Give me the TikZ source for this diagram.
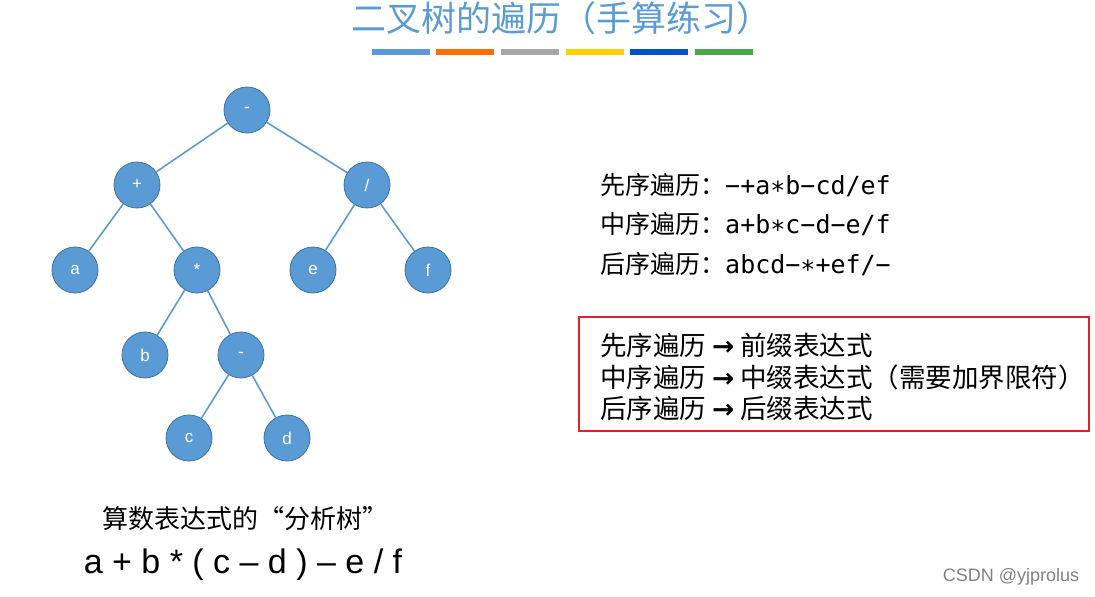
\documentclass[tikz,border=0pt]{standalone}
\usepackage{fontspec}
\setmainfont{DejaVu Sans}
\newfontfamily\cjk{Noto Sans CJK SC}
\newfontfamily\dvm{DejaVu Sans Mono}
\newfontfamily\dvsb{DejaVu Sans Bold}
\newfontfamily\lib{Liberation Sans}
\definecolor{nodeblue}{HTML}{5B9BD5}
\definecolor{nodeedge}{HTML}{41719C}
\definecolor{boxred}{HTML}{E0202A}
\begin{document}
\begin{tikzpicture}[x=1pt,y=-1pt,
  tn/.style={circle,fill=nodeblue,draw=nodeedge,line width=0.8pt,minimum size=46pt,inner sep=0pt,text=white,font=\lib\fontsize{17}{17}\selectfont},
  edge/.style={draw=nodeblue,line width=1.6pt},
  bar/.style={line width=6pt},
  trav/.style={anchor=west,inner sep=0pt,font=\fontsize{25}{25}\selectfont},
  rule/.style={anchor=west,inner sep=0pt,font=\cjk\fontsize{26.5}{26.5}\selectfont}]
\useasboundingbox (0,0) rectangle (1095,597);
\node[font=\cjk\fontsize{35}{35}\selectfont,text=nodeblue] (title) at (561,18) {二叉树的遍历（手算练习）};
\foreach \x/\c in {372/nodeblue,436/orange!85!red,501/gray!70,566/yellow!70!orange,630/blue!60!cyan!80!black,695/green!50!black!70}
  \draw[bar,draw=\c] (\x,52) -- ++(58,0);
\node[tn] (r) at (247,110) {-};
\node[tn] (p) at (137,185) {+};
\node[tn] (s) at (367,185) {/};
\node[tn] (a) at (75,270) {a};
\node[tn] (m) at (197,270) {*};
\node[tn] (e) at (313,270) {e};
\node[tn] (f) at (428,270) {f};
\node[tn] (b) at (145,355) {b};
\node[tn] (n) at (241,355) {-};
\node[tn] (c) at (189,438) {c};
\node[tn] (d) at (287,438) {d};
\foreach \u/\v in {r/p,r/s,p/a,p/m,s/e,s/f,m/b,m/n,n/c,n/d}
  \draw[edge] (\u) -- (\v);
\node[trav] (t1) at (600,185) {{\cjk 先序遍历：}{\dvm −+a∗b−cd/ef}};
\node[trav] (t2) at (600,224) {{\cjk 中序遍历：}{\dvm a+b∗c−d−e/f}};
\node[trav] (t3) at (600,264) {{\cjk 后序遍历：}{\dvm abcd−∗+ef/−}};
\draw[draw=boxred,line width=2pt] (579,317) rectangle (1089,431);
\node[rule] (u1) at (600,345) {先序遍历 {\dvsb →} 前缀表达式};
\node[rule] (u2) at (600,377) {中序遍历 {\dvsb →} 中缀表达式（需要加界限符）};
\node[rule] (u3) at (600,408) {后序遍历 {\dvsb →} 后缀表达式};
\node[font=\cjk\fontsize{26}{26}\selectfont] (cap) at (245,519) {算数表达式的“分析树”};
\node[font=\lib\fontsize{34}{34}\selectfont] (ex) at (243,565) {a + b * ( c – d ) – e / f};
\node[font=\lib\fontsize{18}{18}\selectfont,text=gray] (wm) at (1011,577) {CSDN @yjprolus};
\end{tikzpicture}
\end{document}
